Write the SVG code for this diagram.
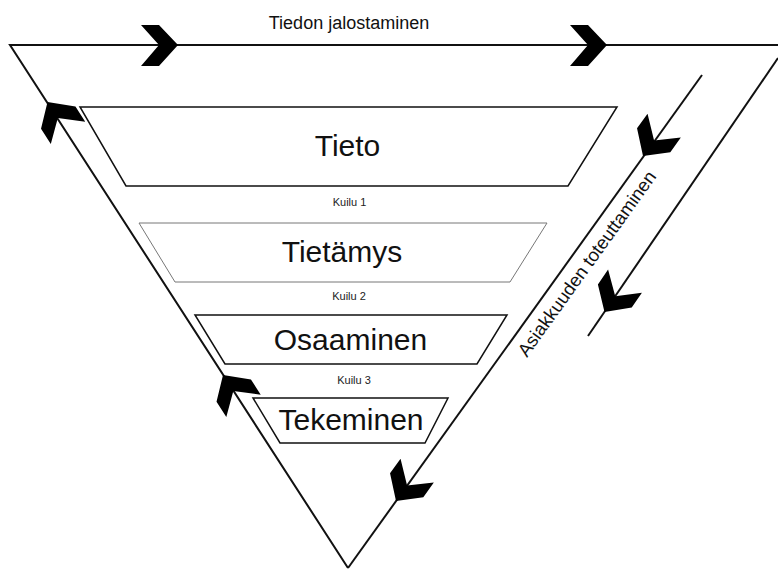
<svg xmlns="http://www.w3.org/2000/svg" width="778" height="569" viewBox="0 0 778 569">
  <defs>
    <path id="chev" d="M-37,-20 L-19,-20 L0,0 L-19,21 L-37,21 L-19,0 Z"/>
    <style>
      .ln { fill: none; stroke: #111; stroke-width: 2; stroke-linecap: butt; stroke-linejoin: miter; }
      .tz { fill: #fff; stroke: #111; stroke-width: 1.5; }
      .tz2 { fill: #fff; stroke: #777; stroke-width: 1; }
      .big { font-family: "Liberation Sans", Arial, sans-serif; font-size: 30px; fill: #111; text-anchor: middle; }
      .small { font-family: "Liberation Sans", Arial, sans-serif; font-size: 11px; fill: #222; text-anchor: middle; }
      .lbl { font-family: "Liberation Sans", Arial, sans-serif; font-size: 18px; fill: #111; text-anchor: middle; }
      .ch { fill: #000; }
    </style>
  </defs>
  <rect width="778" height="569" fill="#fff"/>

  <g id="connectors">
    <polyline class="ln" points="778,45 10,45 348,568"/>
    <line class="ln" x1="702" y1="75" x2="348" y2="568"/>
    <line class="ln" x1="778" y1="58" x2="588" y2="336"/>
    <use href="#chev" class="ch" transform="translate(178,45)"/>
    <use href="#chev" class="ch" transform="translate(607,45)"/>
    <use href="#chev" class="ch" transform="translate(47.5,102) rotate(-122.9)"/>
    <use href="#chev" class="ch" transform="translate(223,375) rotate(-122.9)"/>
    <use href="#chev" class="ch" transform="translate(643,156) rotate(125.7)"/>
    <use href="#chev" class="ch" transform="translate(396,501) rotate(125.7)"/>
    <use href="#chev" class="ch" transform="translate(604.5,312) rotate(124.4)"/>
  </g>

  <g id="label-top">
    <text class="lbl" x="349" y="28.5">Tiedon jalostaminen</text>
  </g>
  <g id="label-right">
    <text class="lbl" x="592" y="267.3" style="font-size:18.5px" transform="rotate(-54.3 592 267.3)">Asiakkuuden toteuttaminen</text>
  </g>

  <g id="tieto">
    <polygon class="tz" points="80,107 617,107 568,186 126,186"/>
    <text class="big" x="347.5" y="156">Tieto</text>
  </g>
  <g id="kuilu1">
    <text class="small" x="349.5" y="206">Kuilu 1</text>
  </g>
  <g id="tietamys">
    <polygon class="tz2" points="139,223 547,223 510,282 175,282"/>
    <text class="big" x="342" y="261.5">Tietämys</text>
  </g>
  <g id="kuilu2">
    <text class="small" x="349" y="300">Kuilu 2</text>
  </g>
  <g id="osaaminen">
    <polygon class="tz" points="195,315 507,315 477,364 225,364"/>
    <text class="big" x="350.5" y="350">Osaaminen</text>
  </g>
  <g id="kuilu3">
    <text class="small" x="354" y="383.5">Kuilu 3</text>
  </g>
  <g id="tekeminen">
    <polygon class="tz" points="253,398 448,398 425,443 280,443"/>
    <text class="big" x="351" y="430">Tekeminen</text>
  </g>
</svg>
